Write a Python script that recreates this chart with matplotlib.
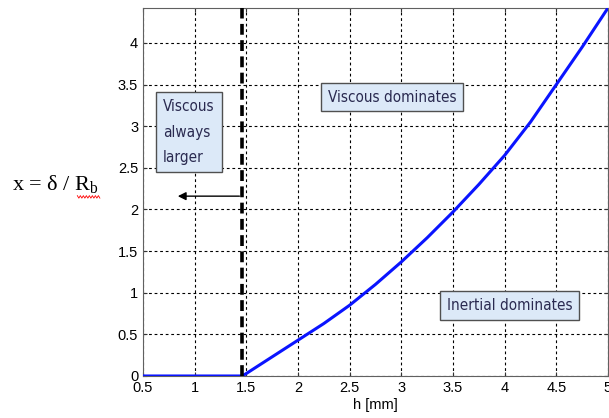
import matplotlib
matplotlib.use("Agg")
import matplotlib.pyplot as plt
import numpy as np

# values
h_mm = [0.5, 1.0, 1.46, 1.5, 2.0, 2.25, 2.5, 2.75, 3.0, 3.25, 3.5, 3.75, 4.0, 4.25, 4.5, 4.75, 5.0]
x_ratio = [0, 0, 0, 0.03, 0.43, 0.63, 0.85, 1.1, 1.37, 1.66, 1.97, 2.3, 2.65, 3.05, 3.5, 3.95, 4.42]

h_crit = 1.46
xticks = [0.5, 1, 1.5, 2, 2.5, 3, 3.5, 4, 4.5, 5]
xticklabels = ["0.5", "1", "1.5", "2", "2.5", "3", "3.5", "4", "4.5", "5"]
yticks = [0, 0.5, 1, 1.5, 2, 2.5, 3, 3.5, 4]
yticklabels = ["0", "0.5", "1", "1.5", "2", "2.5", "3", "3.5", "4"]

plt.rcParams['mathtext.fontset'] = 'custom'
plt.rcParams['mathtext.rm'] = 'Liberation Serif'
plt.rcParams['font.family'] = ['Liberation Sans', 'DejaVu Sans']

fig = plt.figure(figsize=(6.09, 4.18), dpi=100)
ax = fig.add_axes([0.2348, 0.1005, 0.7635, 0.8804])

ax.plot(h_mm, x_ratio, color="#0a14ff", lw=2.2, zorder=3)
ax.axvline(h_crit, color="black", lw=2.6, ls=(0, (3, 1.5)), zorder=4)

ax.set_xlim(0.5, 5)
ax.set_ylim(0, 4.42)
ax.set_xticks(xticks)
ax.set_xticklabels(xticklabels)
ax.set_yticks(yticks)
ax.set_yticklabels(yticklabels)
ax.tick_params(direction="in", labelsize=10.5, length=3, top=True, right=True, colors="#333333")
ax.tick_params(labelcolor="black")
ax.grid(True, color="black", lw=0.8, ls=(0, (2.5, 2.5)))
for s in ax.spines.values():
    s.set_color("#606060")

ax.set_xlabel("h [mm]", fontsize=10.5, labelpad=2)

box = dict(boxstyle="square,pad=0.45", fc="#dce9f8", ec="#505050", lw=1.0)
txt_kw = dict(family="DejaVu Sans", stretch="condensed", color="#2a2a50",
              fontsize=11, ha="center", va="center", bbox=box, zorder=5)

ax.text(0.945, 2.93, "Viscous\nalways\nlarger", linespacing=1.85,
        multialignment="left", **txt_kw)
ax.text(2.91, 3.35, "Viscous dominates", **txt_kw)
ax.text(4.05, 0.85, "Inertial dominates", **txt_kw)

ax.annotate("", xy=(0.81, 2.16), xytext=(h_crit, 2.16),
            arrowprops=dict(arrowstyle="-|>", color="black", lw=1.0,
                            mutation_scale=12), zorder=5)

fig.text(0.02, 0.557, r"x = δ / R$_\mathrm{b}$", family="Liberation Serif",
         fontsize=16, ha="left", va="center")
# spell-check squiggle under R_b
sq_x = np.linspace(0.127, 0.164, 16)
sq_y = 0.529 + 0.003 * np.where(np.arange(16) % 2 == 0, 1, -1)
fig.add_artist(plt.Line2D(sq_x, sq_y, color="red", lw=0.6, transform=fig.transFigure))

fig.savefig("out.png", dpi=100)
